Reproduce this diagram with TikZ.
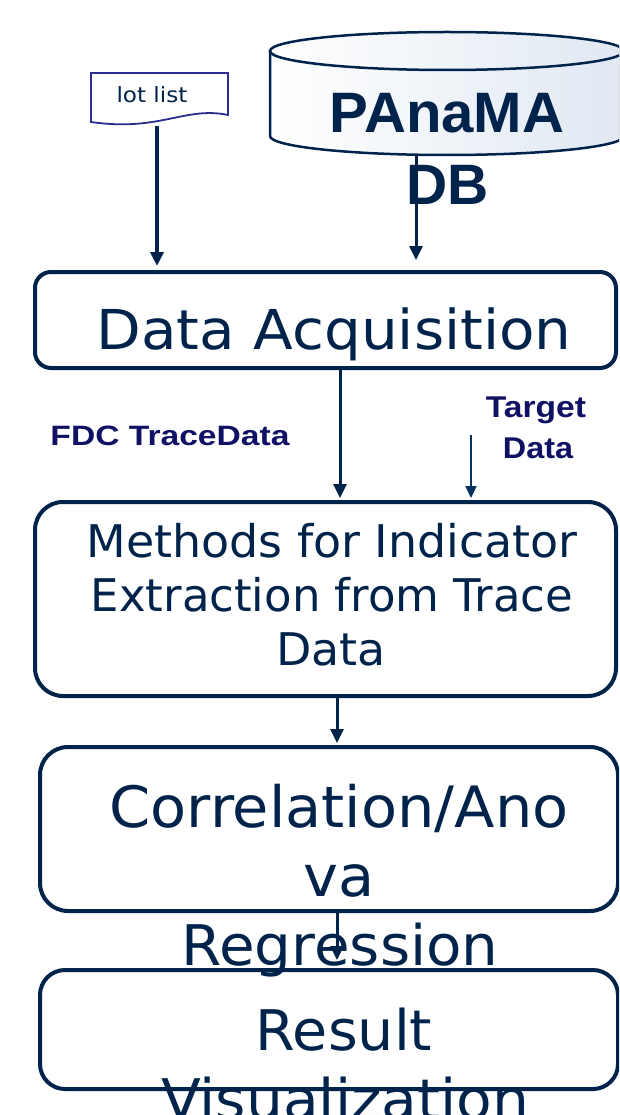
\documentclass[tikz,border=0pt]{standalone}
\usepackage{fontspec}
\setmainfont{DejaVu Sans}
\newfontfamily\arialf{Liberation Sans}
\usetikzlibrary{arrows.meta}
\definecolor{navy}{RGB}{0,35,75}
\definecolor{lbl}{RGB}{16,16,100}
\definecolor{docc}{RGB}{45,45,145}
\definecolor{cylR}{RGB}{224,232,242}
\definecolor{tarr}{RGB}{5,50,95}
\newcommand\hsc[2]{\scalebox{#1}[1]{#2}}
\tikzset{
  box/.style={draw=navy, line width=4pt, inner sep=0pt},
  arr/.style={draw=navy, line width=3pt, -{Triangle[length=14pt,width=13pt]}},
  thinarr/.style={draw=tarr, line width=2pt, -{Triangle[length=12pt,width=11pt]}},
  btext/.style={text=navy, anchor=base, inner sep=0pt},
  ltext/.style={text=lbl, anchor=base, inner sep=0pt, font=\arialf\bfseries\fontsize{28pt}{28pt}\selectfont},
  cylline/.style={draw=navy, line width=2.5pt},
}
\begin{document}
\begin{tikzpicture}[x=1pt,y=-1pt]
\useasboundingbox (0,0) rectangle (619,1115);
\clip (0,0) rectangle (619,1115);
\fill[white] (0,0) rectangle (619,1115);

% cylinder
\fill[left color=white, right color=cylR] (270,51) -- (270,136)
  arc[start angle=180, end angle=360, x radius=177pt, y radius=19pt] -- (624,51)
  arc[start angle=0, end angle=180, x radius=177pt, y radius=19pt] -- cycle;
\draw[cylline] (270,51) -- (270,136)
  arc[start angle=180, end angle=360, x radius=177pt, y radius=19pt] -- (624,51);
\draw[cylline] (447,51) ellipse[x radius=177pt, y radius=19pt];
\node[text=navy, anchor=base, inner sep=0pt, font=\arialf\bfseries\fontsize{57pt}{57pt}\selectfont] (dbT1) at (447,133) {\hsc{1.02}{PAnaMA}};
\node[text=navy, anchor=base, inner sep=0pt, font=\arialf\bfseries\fontsize{57pt}{57pt}\selectfont] (dbT2) at (448,205) {DB};
\coordinate (dbb) at (416,155);

% lot list document
\draw[draw=docc, line width=1.8pt, fill=white] (91,73) -- (228,73) -- (228,115)
  .. controls (185,106) and (160,132) .. (91,122) -- cycle;
\node[text=navy, anchor=base, inner sep=0pt, font=\fontsize{21pt}{21pt}\selectfont] (lot) at (152,103) {\hsc{1.1}{lot list}};
\coordinate (lotb) at (157,126);

% boxes
\node[box, rounded corners=16pt, minimum width=581pt, minimum height=96pt] (acq) at (325.5,320) {};
\node[box, rounded corners=28pt, minimum width=581pt, minimum height=194pt] (meth) at (325.5,599) {};
\node[box, rounded corners=28pt, minimum width=578pt, minimum height=164pt] (corr) at (329,829) {};
\node[box, rounded corners=25pt, minimum width=578pt, minimum height=119pt] (res) at (329,1029.5) {};

% box texts
\node[btext, font=\fontsize{55pt}{55pt}\selectfont] (acqT) at (334,349) {\hsc{1.055}{Data Acquisition}};
\node[btext, font=\fontsize{45pt}{45pt}\selectfont] (methT1) at (332,557) {\hsc{1.02}{Methods for Indicator}};
\node[btext, font=\fontsize{45pt}{45pt}\selectfont] (methT2) at (332,611) {\hsc{1.0}{Extraction from Trace}};
\node[btext, font=\fontsize{45pt}{45pt}\selectfont] (methT3) at (331,665) {\hsc{1.02}{Data}};
\node[btext, font=\fontsize{57pt}{57pt}\selectfont] (corrT1) at (339,827) {\hsc{1.035}{Correlation/Ano}};
\node[btext, font=\fontsize{57pt}{57pt}\selectfont] (corrT2) at (339,896) {\hsc{1.035}{va}};
\node[btext, font=\fontsize{56pt}{56pt}\selectfont] (corrT3) at (340,965) {\hsc{1.035}{Regression}};
\node[btext, font=\fontsize{56pt}{56pt}\selectfont] (resT1) at (344,1050) {\hsc{1.02}{Result}};
\node[btext, font=\fontsize{56pt}{56pt}\selectfont] (resT2) at (345,1119) {\hsc{1.04}{Visualization}};

% labels
\node[ltext] (fdc) at (170,445) {\hsc{1.2}{FDC TraceData}};
\node[ltext, font=\arialf\bfseries\fontsize{30pt}{30pt}\selectfont] (tg1) at (536,417) {\hsc{1.12}{Target}};
\node[ltext, font=\arialf\bfseries\fontsize{30pt}{30pt}\selectfont] (tg2) at (538,458) {\hsc{1.08}{Data}};
\coordinate (tga) at (471,435);

% connectors
\draw[arr, line width=3.5pt, shorten >=4pt] (lotb) -- (lotb |- acq.north);
\draw[arr, shorten >=10pt] (dbb) -- (dbb |- acq.north);
\draw[arr, shorten >=2pt] ([xshift=14.5pt]acq.south) -- ([xshift=14.5pt]meth.north);
\draw[thinarr, shorten >=2pt] (tga) -- (tga |- meth.north);
\draw[arr, shorten >=2pt] ([xshift=11.5pt]meth.south) -- ([xshift=8pt]corr.north);
\draw[arr, shorten >=8pt] ([xshift=8pt]corr.south) -- ([xshift=8pt]res.north);
\end{tikzpicture}
\end{document}
